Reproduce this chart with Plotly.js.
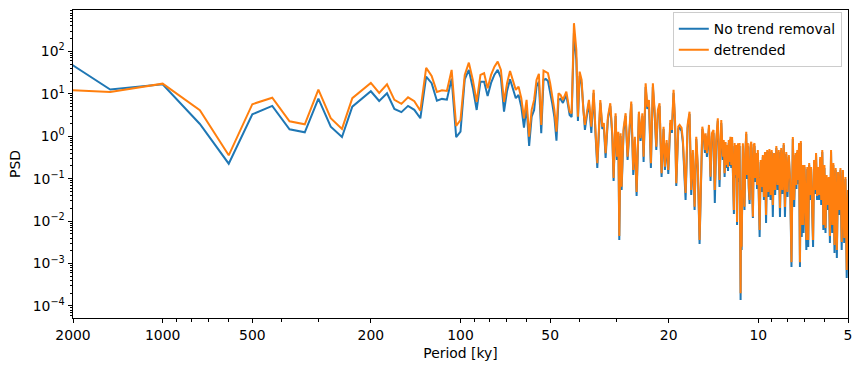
<!DOCTYPE html>
<html><head><meta charset="utf-8">
<script src="https://cdn.plot.ly/plotly-3.0.1.min.js"></script>
<style>html,body{margin:0;padding:0;background:#fff}#chart{width:862px;height:371px}</style>
</head><body><div id="chart"></div>
<script>
// Low-frequency part: periods (ky) and PSD values
const periodLow = [3000,1500,1000,750,600,500,428.6,375,333.3,300,272.7,250,230.8,214.3,200,187.5,176.5,166.7,157.9,150,142.9,136.4,130.4,125,120,115.4,111.1,107.1,103.4,100,96.77,93.75,90.91,88.24,85.71,83.33,81.08,78.95,76.92,75,73.17,71.43,69.77,68.18,66.67,65.22,63.83,62.5,61.22,60,58.82,57.69,56.6,55.56,54.55,53.57,52.63,51.72,50.85,50,49.18,48.39,47.62,46.88,46.15];
const rawLow = [300,12.6,16.8,1.95,0.226,3.3,5.2,1.46,1.24,7.7,1.68,0.96,4.99,7.9,11.5,6.8,10.3,4.4,3.7,5.2,4.2,2.66,25.5,17.8,6.9,7.6,7.3,22.8,0.95,1.28,22.1,36.6,13.8,4.17,19.4,19.4,8.9,18.1,28.4,36.6,23.7,3.80,11.7,22.1,12.4,7.9,9.4,4.99,1.60,4.99,0.591,2.90,4.17,14.8,19.4,1.18,21.3,22.5,20.1,11.7,5.78,2.85,0.788,7.18,7.6];
const detLow = [14,11.1,17.4,4.1,0.356,5.7,8.1,2.26,1.92,12.6,2.66,1.49,7.9,12.4,18.1,10.5,16.8,7.2,5.8,8.3,6.7,4.0,40.8,26.4,11.1,12.2,11.7,36.6,1.75,2.42,27.9,54.5,21.3,6.5,27.9,30.6,13.6,27.9,43.8,57.5,36.6,6.5,17.8,34.7,19.4,12.4,14.8,7.9,2.66,7.2,0.98,4.2,7.2,21.3,29.5,1.85,35.3,33.4,30.6,17.8,8.6,4.2,1.28,10.3,9.42];

// Band 45 - 37 ky (obliquity peak)
const periodMid = [45.30,44.12,43.01,42.35,41.60,40.84,40.34,39.81,39.20,38.70,38.22,37.52,37.05];
const rawMid = [6.1,9.4,3.18,2.85,275,63,2.30,26.4,17.1,3.35,1.41,3.54,6.1];
const detMid = [7.18,11.3,3.80,3.49,462,109,2.90,33.4,21.3,4.17,1.85,4.17,7.18];

// Band 37 - 10 ky
const periodHigh = [36.37,35.73,35.19,34.73,33.93,33.41,33.02,32.57,31.99,31.41,30.93,30.62,30.15,29.84,29.52,29.30,29.00,28.78,28.34,27.90,27.48,27.06,26.71,26.30,25.97,25.63,25.18,24.85,24.52,24.28,23.90,23.59,23.30,22.95,22.60,22.30,22.01,21.74,21.46,21.13,20.81,20.59,20.32,20.06,19.75,19.51,19.26,19.04,18.86,18.57,18.38,18.10,17.92,17.55,17.28,17.02,16.80,16.59,16.37,16.16,15.96,15.75,15.54,15.42,15.24,15.11,15.03,14.88,14.65,14.47,14.32,14.14,14.00,13.85,13.68,13.50,13.32,13.16,13.07,12.98,12.88,12.80,12.72,12.64,12.57,12.49,12.41,12.33,12.25,12.18,12.08,12.01,11.93,11.85,11.79,11.71,11.64,11.56,11.47,11.43,11.38,11.27,11.19,11.13,11.05,10.98,10.92,10.85,10.77,10.70,10.63,10.56,10.50,10.43,10.36,10.30,10.24,10.17,10.10,10.04,9.97];
const rawHigh = [1.20,10.5,1.02,0.179,6.10,1.49,1.75,0.308,2.56,5.18,1.02,0.0883,3.01,0.276,1.13,0.00358,1.02,0.0541,1.33,3.01,0.276,1.57,5.78,0.122,0.863,0.0391,3.36,0.774,3.01,0.248,14.5,4.40,6.10,0.179,14.5,3.54,0.475,3.54,5.18,0.1096,1.49,0.160,0.695,0.129,2.06,1.20,10.5,2.06,0.0673,1.49,1.57,1.33,0.695,0.0315,1.57,3.36,0.0413,0.404,0.0183,0.863,0.160,0.00288,0.160,1.49,0.863,0.404,1.02,0.325,1.57,0.0883,1.02,1.20,0.0268,0.695,2.30,0.0637,2.06,0.276,0.695,0.1096,0.624,0.179,0.530,0.152,0.695,0.1995,0.863,0.179,0.818,0.0673,0.0147,0.591,0.104,0.530,0.00809,0.591,0.0836,0.591,0.000138,0.046,0.00208,0.591,0.075,0.0183,0.404,1.13,0.0984,0.591,0.0571,0.0253,0.530,0.658,0.075,0.0118,0.530,0.591,0.0836,0.343,0.0571,0.404,0.0436];
const detHigh = [1.68,12.4,1.20,0.231,7.18,1.68,2.06,0.397,2.90,6.0,1.18,0.104,3.49,0.330,1.28,0.00446,1.18,0.0648,1.55,3.49,0.330,1.85,6.55,0.160,0.978,0.0486,3.80,0.897,3.49,0.330,17.8,4.99,7.18,0.231,17.8,4.17,0.568,4.17,6.0,0.134,1.68,0.192,0.818,0.160,2.42,1.41,12.4,2.42,0.078,1.68,1.85,1.57,0.818,0.046,1.85,3.80,0.0541,0.475,0.0219,0.978,0.192,0.00358,0.192,1.68,0.978,0.475,1.18,0.397,1.85,0.111,1.18,1.41,0.0541,0.818,2.66,0.0931,2.42,0.330,0.818,0.134,0.734,0.210,0.624,0.189,0.818,0.248,0.978,0.210,0.963,0.0836,0.0183,0.695,0.122,0.624,0.00953,0.684,0.104,0.695,0.000201,0.0541,0.00249,0.684,0.0931,0.0219,0.475,1.28,0.122,0.695,0.0710,0.0315,0.624,0.746,0.0931,0.0127,0.624,0.684,0.104,0.404,0.0710,0.475,0.0541];

// Band 10 - 5 ky (dense)
const periodTop = [9.90,9.82,9.74,9.66,9.58,9.50,9.42,9.34,9.26,9.18,9.10,9.02,8.94,8.86,8.78,8.70,8.62,8.54,8.46,8.38,8.30,8.22,8.14,8.06,7.98,7.90,7.82,7.74,7.66,7.58,7.50,7.45,7.40,7.35,7.30,7.25,7.20,7.15,7.10,7.05,7.00,6.95,6.90,6.85,6.80,6.75,6.70,6.65,6.60,6.55,6.50,6.45,6.40,6.35,6.30,6.25,6.20,6.15,6.10,6.05,6.00,5.95,5.90,5.85,5.80,5.75,5.70,5.65,5.60,5.55,5.50,5.45,5.40,5.35,5.30,5.25,5.20,5.15,5.10,5.05,5.00];
const rawTop = [0.00422,0.248,0.0486,0.325,0.0315,0.383,0.0090,0.427,0.0371,0.450,0.0315,0.427,0.0125,0.362,0.0413,0.530,0.0541,0.427,0.0125,0.475,0.0436,0.624,0.0125,0.383,0.0371,0.325,0.075,0.000826,0.863,0.0215,0.362,0.0571,0.427,0.075,0.624,0.000826,0.695,0.00422,0.189,0.00524,0.189,0.0315,0.00208,0.169,0.00245,0.210,0.0315,0.169,0.0240,0.00245,0.248,0.0436,0.362,0.0315,0.169,0.0315,0.292,0.0240,0.427,0.00617,0.179,0.00524,0.104,0.0183,0.0931,0.00304,0.427,0.00524,0.210,0.00177,0.160,0.00135,0.129,0.0139,0.160,0.00208,0.144,0.00304,0.0984,0.000455,0.0413];
const detTop = [0.00617,0.276,0.0637,0.362,0.0371,0.427,0.0139,0.475,0.0486,0.502,0.0413,0.475,0.0240,0.404,0.0541,0.591,0.0710,0.475,0.0204,0.530,0.0541,0.695,0.0215,0.427,0.0486,0.362,0.0931,0.00108,0.963,0.0315,0.404,0.0710,0.475,0.0931,0.695,0.00108,0.774,0.00809,0.210,0.00809,0.210,0.0413,0.00358,0.189,0.00358,0.235,0.0413,0.189,0.0315,0.00358,0.276,0.0541,0.404,0.0391,0.189,0.0413,0.325,0.0315,0.475,0.00809,0.210,0.00687,0.122,0.0240,0.1096,0.00446,0.475,0.00809,0.235,0.00273,0.179,0.00208,0.144,0.0183,0.179,0.00321,0.160,0.0040,0.1096,0.000703,0.0541];

const xTickVals = [2000,1000,500,200,100,50,20,10,5];
const xTickText = ['2000','1000','500','200','100','50','20','10','5'];
const xMinorVals = [900,800,700,600,400,300,90,80,70,60,40,30,9,8,7,6];
const yTickVals = [1e-4,1e-3,1e-2,1e-1,1,10,100];
const yTickText = ['10<sup>−4</sup>','10<sup>−3</sup>','10<sup>−2</sup>','10<sup>−1</sup>','10<sup>0</sup>','10<sup>1</sup>','10<sup>2</sup>'];

const yMinorVals = [];
for (let d = -5; d <= 2; d++) for (let m = 2; m <= 9; m++) yMinorVals.push(m * Math.pow(10, d));

const period = periodLow.concat(periodMid, periodHigh, periodTop);
const psdRaw = rawLow.concat(rawMid, rawHigh, rawTop);
const psdDet = detLow.concat(detMid, detHigh, detTop);

const font = {family: 'DejaVu Sans, sans-serif', size: 13.9, color: '#000'};

const traces = [
  {x: period, y: psdRaw, type: 'scatter', mode: 'lines', name: 'No trend removal',
   line: {color: '#1f77b4', width: 2}, hoverinfo: 'skip'},
  {x: period, y: psdDet, type: 'scatter', mode: 'lines', name: 'detrended',
   line: {color: '#ff7f0e', width: 2}, hoverinfo: 'skip'}
];

const layout = {
  width: 862, height: 371,
  margin: {l: 73, r: 14, t: 10, b: 53, pad: 0},
  paper_bgcolor: '#fff', plot_bgcolor: '#fff',
  font: font,
  showlegend: true,
  xaxis: {
    type: 'log', autorange: false, range: [Math.log10(2000), Math.log10(5)],
    tickmode: 'array', tickvals: xTickVals, ticktext: xTickText,
    ticks: 'outside', ticklen: 4, tickwidth: 1, tickcolor: '#000',
    minor: {tickmode: 'array', tickvals: xMinorVals, ticks: 'outside', ticklen: 2.5, tickwidth: 1, tickcolor: '#000', showgrid: false},
    showline: true, linecolor: '#000', linewidth: 1, mirror: true,
    showgrid: false, zeroline: false, tickfont: font,
    title: {text: 'Period [ky]', font: font, standoff: 6}
  },
  yaxis: {
    type: 'log', autorange: false, range: [-4.283, 2.976],
    tickmode: 'array', tickvals: yTickVals, ticktext: yTickText,
    ticks: 'outside', ticklen: 4.5, tickwidth: 1, tickcolor: '#000',
    minor: {tickmode: 'array', tickvals: yMinorVals, ticks: 'outside', ticklen: 2.5, tickwidth: 1, tickcolor: '#000', showgrid: false},
    showline: true, linecolor: '#000', linewidth: 1, mirror: true,
    showgrid: false, zeroline: false, tickfont: font,
    title: {text: 'PSD', font: font, standoff: 8}
  },
  legend: {
    x: 0.992, xanchor: 'right', y: 0.993, yanchor: 'top',
    bgcolor: 'rgba(255,255,255,0.8)', bordercolor: '#cccccc', borderwidth: 1,
    font: font, tracegroupgap: 0
  }
};

Plotly.newPlot('chart', traces, layout, {displayModeBar: false, staticPlot: true});
</script>
</body></html>
